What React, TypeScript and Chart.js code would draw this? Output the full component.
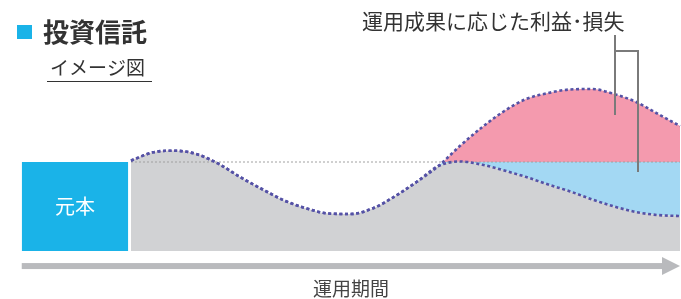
import React, { useEffect, useRef } from "react";
import { Chart, registerables } from "chart.js";

Chart.register(...registerables);

// ---- data (time axis: 0..100, value axis: principal = 100) ----
const periods = [0, 4, 8, 12, 16, 20, 24, 28, 32, 36, 40, 44, 48, 52, 56, 60, 64, 68, 72, 76, 80, 84, 88, 92, 96, 100];
const gainPath = [101.5, 110.9, 112.7, 108.7, 97.8, 82.6, 69.1, 56.5, 47.8, 42.1, 41.6, 47.8, 61.2, 77.5, 95.5, 118.5, 139.3, 157.3, 170.8, 177.5, 181.5, 182, 176.4, 167.4, 153.9, 140.4];
const lossPath = [101.5, 110.9, 112.7, 108.7, 97.8, 82.6, 69.1, 56.5, 47.8, 42.1, 41.6, 47.8, 61.2, 77.5, 95.5, 100.6, 96.9, 90.4, 83.1, 74.7, 66.9, 57.9, 50.0, 43.8, 40.4, 39.3];
const principalValue = 100;
const principalPeriod = [-19.9, -0.5];
const arrowLevel = -16.9;

const titleText = "投資信託";
const subtitleText = "イメージ図";
const principalLabel = "元本";
const annotationText = "運用成果に応じた利益･損失";
const axisLabel = "運用期間";

const FONT = "'Noto Sans CJK JP', 'Noto Sans', sans-serif";

const toPoints = (vals: number[]) => periods.map((t, i) => ({ x: t, y: vals[i] }));

export default function App() {
  const ref = useRef<HTMLCanvasElement | null>(null);

  useEffect(() => {
    if (!ref.current) return;
    const dotted = { borderColor: "#5552a6", borderWidth: 2.6, borderDash: [3, 2.6], borderCapStyle: "butt" as const };

    const overlay = {
      id: "overlay",
      afterDraw(chart: any) {
        const { ctx } = chart;
        const xs = chart.scales.x;
        const ys = chart.scales.y;
        ctx.save();
        // principal label
        const px0 = xs.getPixelForValue(principalPeriod[0]);
        const px1 = xs.getPixelForValue(principalPeriod[1]);
        const py0 = ys.getPixelForValue(principalValue);
        const py1 = ys.getPixelForValue(0);
        ctx.fillStyle = "#ffffff";
        ctx.font = `20px ${FONT}`;
        ctx.textAlign = "center";
        ctx.textBaseline = "middle";
        ctx.fillText(principalLabel, (px0 + px1) / 2, (py0 + py1) / 2);

        // time arrow
        const ax0 = px0;
        const ax1 = xs.getPixelForValue(periods[periods.length - 1]);
        const ay = ys.getPixelForValue(arrowLevel);
        ctx.fillStyle = "#b9babd";
        ctx.fillRect(ax0, ay - 3, ax1 - 17 - ax0, 6);
        ctx.beginPath();
        ctx.moveTo(ax1 - 18, ay - 9);
        ctx.lineTo(ax1, ay);
        ctx.lineTo(ax1 - 18, ay + 9);
        ctx.closePath();
        ctx.fill();

        ctx.fillStyle = "#444444";
        ctx.font = `19px ${FONT}`;
        ctx.fillText(axisLabel, 351, 289);

        // title
        ctx.fillStyle = "#1ab3e8";
        ctx.fillRect(17, 25, 15, 14);
        ctx.fillStyle = "#333333";
        ctx.textAlign = "left";
        ctx.font = `bold 26px ${FONT}`;
        ctx.fillText(titleText, 43, 32);
        ctx.font = `19px ${FONT}`;
        ctx.fillText(subtitleText, 50, 67.5);
        ctx.strokeStyle = "#333333";
        ctx.lineWidth = 1.2;
        ctx.beginPath();
        ctx.moveTo(47, 81.5);
        ctx.lineTo(152, 81.5);
        ctx.stroke();

        // annotation
        ctx.font = `21px ${FONT}`;
        ctx.fillStyle = "#333333";
        ctx.fillText(annotationText, 362, 21);
        ctx.strokeStyle = "#7a7a7a";
        ctx.lineWidth = 2;
        ctx.beginPath();
        ctx.moveTo(615, 35);
        ctx.lineTo(615, 115);
        ctx.moveTo(615, 51);
        ctx.lineTo(638, 51);
        ctx.lineTo(638, 172);
        ctx.stroke();
        ctx.restore();
      },
    };

    const chart = new Chart(ref.current, {
      type: "line",
      data: {
        datasets: [
          {
            label: "baseline",
            data: [
              { x: periods[0], y: principalValue },
              { x: periods[periods.length - 1], y: principalValue },
            ],
            borderColor: "#a0a0a0",
            borderWidth: 1,
            borderDash: [2, 2],
            fill: false,
            pointRadius: 0,
            tension: 0,
            order: 7,
          },
          {
            label: "lossArea",
            data: toPoints(lossPath),
            borderWidth: 0,
            borderColor: "rgba(0,0,0,0)",
            fill: { target: 2, above: "rgba(0,0,0,0)", below: "#a3d8f3" },
            pointRadius: 0,
            cubicInterpolationMode: "monotone",
            order: 6,
          },
          {
            label: "gain",
            data: toPoints(gainPath),
            ...dotted,
            fill: { target: { value: principalValue }, above: "#f49aae", below: "rgba(0,0,0,0)" },
            pointRadius: 0,
            cubicInterpolationMode: "monotone",
            order: 5,
          },
          {
            label: "loss",
            data: toPoints(lossPath),
            ...dotted,
            backgroundColor: "#d1d2d4",
            fill: "origin",
            pointRadius: 0,
            cubicInterpolationMode: "monotone",
            order: 4,
          },
          {
            label: "principal",
            data: [
              { x: principalPeriod[0], y: principalValue },
              { x: principalPeriod[1], y: principalValue },
            ],
            borderWidth: 0,
            borderColor: "rgba(0,0,0,0)",
            backgroundColor: "#1ab3e8",
            fill: "origin",
            pointRadius: 0,
            tension: 0,
            order: 3,
          },
        ],
      },
      options: {
        animation: false,
        responsive: false,
        maintainAspectRatio: false,
        layout: { padding: 0 },
        events: [],
        scales: {
          x: { type: "linear", min: -23.86, max: 100.18, display: false },
          y: { type: "linear", min: -53.9, max: 282, display: false },
        },
        plugins: {
          legend: { display: false },
          tooltip: { enabled: false },
          filler: { drawTime: "beforeDatasetsDraw" },
        },
      } as any,
      plugins: [overlay],
    });
    return () => chart.destroy();
  }, []);

  return (
    <div style={{ position: "absolute", left: 0, top: 0, width: 681, height: 299, background: "#ffffff" }}>
      <canvas ref={ref} width={681} height={299} style={{ display: "block" }} />
    </div>
  );
}
